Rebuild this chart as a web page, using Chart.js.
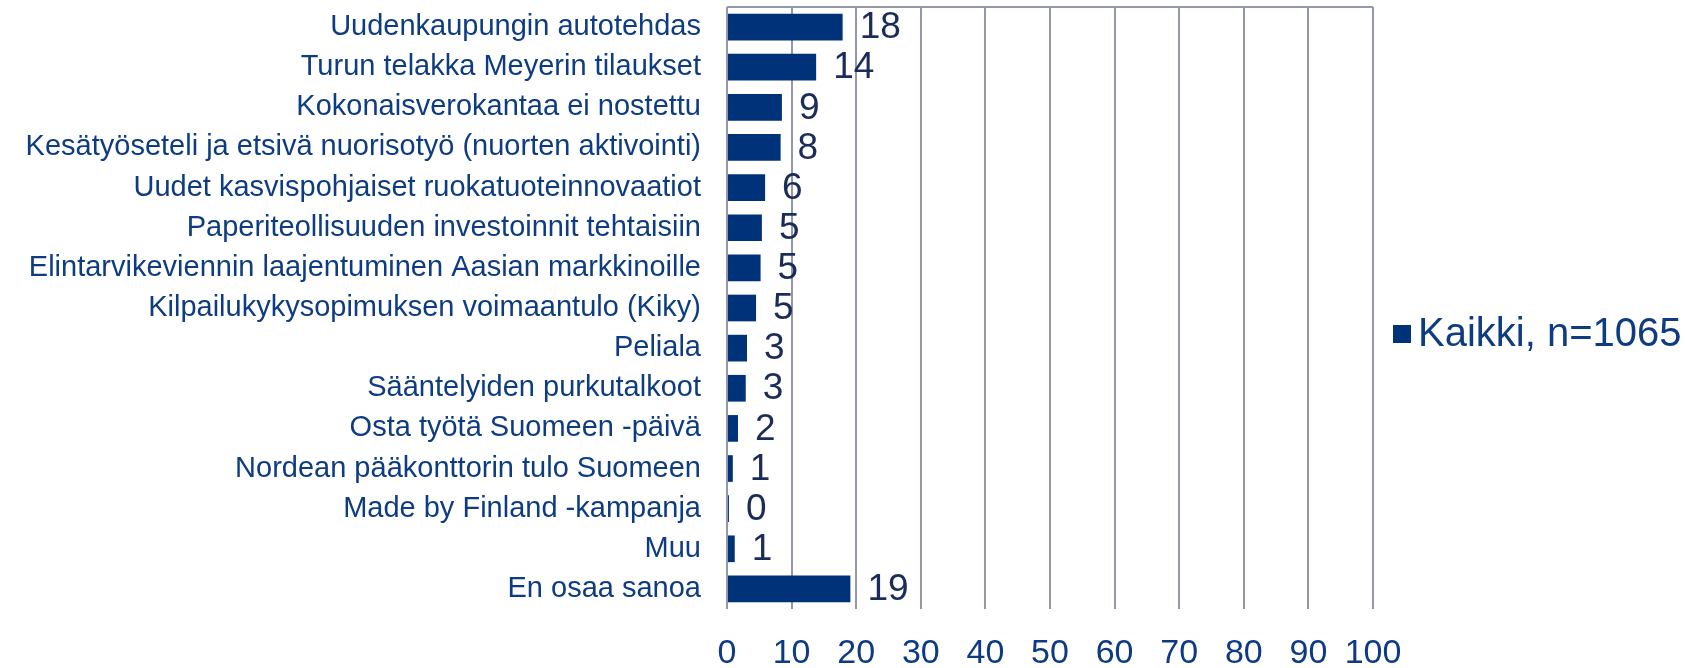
<!DOCTYPE html>
<html>
<head>
<meta charset="utf-8">
<script src="https://cdn.jsdelivr.net/npm/chart.js@4.4.1/dist/chart.umd.min.js"></script>
<style>
  html, body { margin: 0; padding: 0; background: #fff; }
  #wrap { width: 1685px; height: 668px; }
</style>
</head>
<body>
<div id="wrap"><canvas id="resultsChart"></canvas></div>
<script>
const categories = [
    'Uudenkaupungin autotehdas',
    'Turun telakka Meyerin tilaukset',
    'Kokonaisverokantaa ei nostettu',
    'Kesätyöseteli ja etsivä nuorisotyö (nuorten aktivointi)',
    'Uudet kasvispohjaiset ruokatuoteinnovaatiot',
    'Paperiteollisuuden investoinnit tehtaisiin',
    'Elintarvikeviennin laajentuminen Aasian markkinoille',
    'Kilpailukykysopimuksen voimaantulo (Kiky)',
    'Peliala',
    'Sääntelyiden purkutalkoot',
    'Osta työtä Suomeen -päivä',
    'Nordean pääkonttorin tulo Suomeen',
    'Made by Finland -kampanja',
    'Muu',
    'En osaa sanoa'
];
const kaikki = [17.9, 13.8, 8.5, 8.3, 5.9, 5.4, 5.2, 4.5, 3.1, 2.9, 1.7, 0.9, 0.3, 1.2, 19.1];
const seriesLabel = 'Kaikki, n=1065';
const xTicks = [0, 10, 20, 30, 40, 50, 60, 70, 80, 90, 100];

const FONT = '"Liberation Sans", Arial, sans-serif';
const GRID = '#9497a8';
const BAR = '#00327a';
const TEXT = '#0e3c82';

// value labels next to the bars
const valueLabels = {
    id: 'valueLabels',
    afterDatasetsDraw(chart) {
        const ctx = chart.ctx;
        const meta = chart.getDatasetMeta(0);
        ctx.save();
        ctx.font = '37px ' + FONT;
        ctx.fillStyle = '#1b2c59';
        ctx.textBaseline = 'middle';
        ctx.textAlign = 'left';
        meta.data.forEach((bar, i) => {
            ctx.fillText(String(Math.round(kaikki[i])), bar.x + 17, bar.y + 1);
        });
        ctx.restore();
    }
};

// thin line along the top of the plot
const topBorder = {
    id: 'topBorder',
    beforeDatasetsDraw(chart) {
        const a = chart.chartArea;
        const ctx = chart.ctx;
        ctx.save();
        ctx.strokeStyle = GRID;
        ctx.lineWidth = 2;
        ctx.beginPath();
        ctx.moveTo(a.left, a.top);
        ctx.lineTo(a.right, a.top);
        ctx.stroke();
        ctx.restore();
    }
};

// legend to the right of the plot, box close to the text
const sideLegend = {
    id: 'sideLegend',
    afterDraw(chart) {
        const a = chart.chartArea;
        const ctx = chart.ctx;
        const y = 334;
        const x = a.right + 20;
        ctx.save();
        ctx.fillStyle = chart.data.datasets[0].backgroundColor;
        ctx.fillRect(x, y - 9, 18, 18);
        ctx.font = '40px ' + FONT;
        ctx.fillStyle = TEXT;
        ctx.textBaseline = 'middle';
        ctx.textAlign = 'left';
        ctx.fillText(chart.data.datasets[0].label, x + 25, y + 1);
        ctx.restore();
    }
};

const ctx = document.getElementById('resultsChart').getContext('2d');
const resultsChart = new Chart(ctx, {
    type: 'bar',
    data: {
        labels: categories,
        datasets: [{
            label: seriesLabel,
            data: kaikki,
            backgroundColor: BAR,
            borderWidth: 0,
            barPercentage: 0.665,
            categoryPercentage: 1
        }]
    },
    options: {
        indexAxis: 'y',
        responsive: true,
        maintainAspectRatio: false,
        animation: false,
        layout: { padding: { top: 7, left: 0, right: 312, bottom: 0 } },
        scales: {
            x: {
                min: 0,
                max: 100,
                afterBuildTicks: (axis) => { axis.ticks = xTicks.map(v => ({ value: v })); },
                afterFit: (axis) => {
                    axis.height = 59;
                    axis.paddingTop = 0;
                    axis.paddingBottom = 0;
                },
                grid: { color: GRID, lineWidth: 2, drawTicks: false },
                border: { display: false },
                ticks: {
                    padding: 28,
                    color: '#0d3a85',
                    font: { family: FONT, size: 34, lineHeight: 1 }
                }
            },
            y: {
                afterFit: (axis) => {
                    axis.width = 727;
                    axis.paddingTop = 0;
                    axis.paddingBottom = 0;
                },
                grid: { display: false },
                border: { display: false },
                ticks: {
                    padding: 18,
                    color: TEXT,
                    autoSkip: false,
                    font: { family: FONT, size: 29 }
                }
            }
        },
        plugins: {
            legend: { display: false },
            tooltip: { enabled: false }
        }
    },
    plugins: [valueLabels, topBorder, sideLegend]
});
</script>
</body>
</html>
